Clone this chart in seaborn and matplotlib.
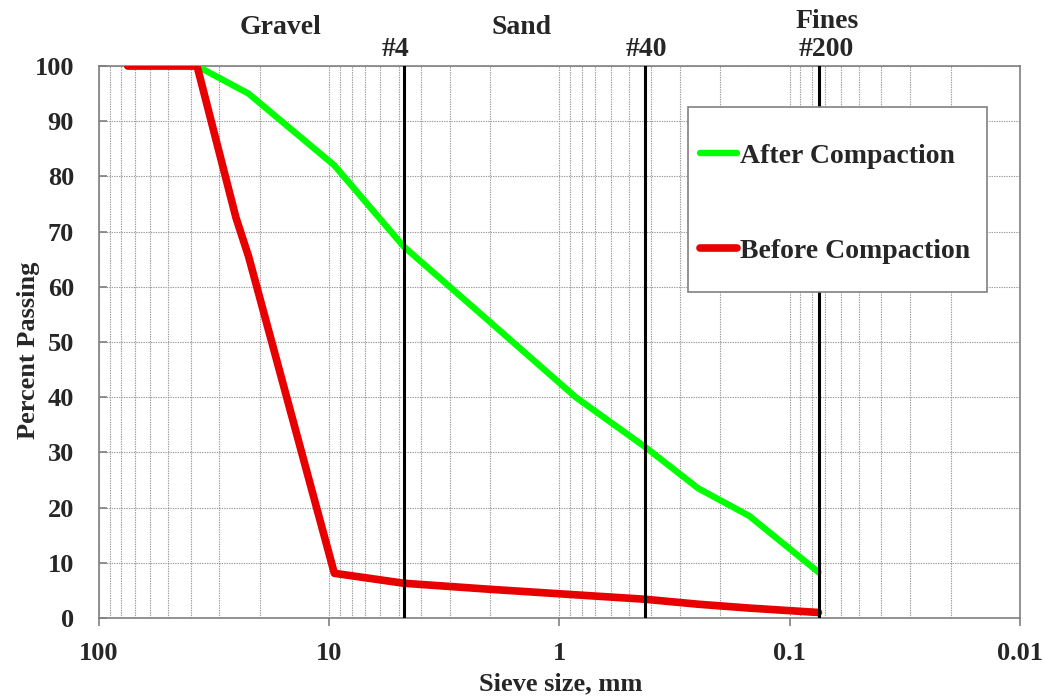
import matplotlib
matplotlib.use("Agg")
import matplotlib.pyplot as plt
import seaborn as sns
import pandas as pd
from matplotlib.patches import Rectangle
from matplotlib.ticker import LogLocator, FuncFormatter, MultipleLocator, NullFormatter

# Gradation data (sieve size in mm, percent passing)
sieve_after = [75, 37.5, 22.4, 9.5, 4.75, 2.0, 0.85, 0.425, 0.25, 0.15, 0.075]
pass_after = [100, 100, 95, 82, 67.3, 53.6, 40, 31, 23.5, 18.5, 8.3]

sieve_before = [75, 37.5, 25.4, 22.4, 9.5, 4.75, 2.0, 0.85, 0.425, 0.25, 0.15, 0.075]
pass_before = [100, 100, 72.5, 65.5, 8.1, 6.3, 5.2, 4.2, 3.4, 2.5, 1.8, 1.0]

# Standard sieves and soil zones shown on top
sieve_marks = [4.75, 0.425, 0.075]
sieve_names = ["#4", "#40", "#200"]
label_x = [5.16, 0.419, 0.0697]
zone_names = ["Gravel", "Sand", "Fines"]
zone_x = [16.3, 1.46, 0.069]

df_after = pd.DataFrame({"size": sieve_after, "passing": pass_after})
df_before = pd.DataFrame({"size": sieve_before, "passing": pass_before})

sns.set_style("white")
plt.rcParams["font.family"] = ["Liberation Serif", "DejaVu Serif"]
plt.rcParams["font.weight"] = "bold"

fig = plt.figure(figsize=(10.44, 6.98), dpi=100)
ax = fig.add_axes([0.0948, 0.1146, 0.8822, 0.7908])

sns.lineplot(data=df_after, x="size", y="passing", ax=ax, sort=False,
             color="#00ff00", lw=4.6, label="After Compaction",
             solid_capstyle="round", zorder=3)
sns.lineplot(data=df_before, x="size", y="passing", ax=ax, sort=False,
             color="#e80000", lw=5.5, label="Before Compaction",
             solid_capstyle="round", zorder=3)

ax.set_xscale("log")
ax.set_xlim(100, 0.01)
ax.set_ylim(0, 100)
ax.yaxis.set_major_locator(MultipleLocator(10))
ax.xaxis.set_major_locator(LogLocator(base=10))
ax.xaxis.set_minor_locator(LogLocator(base=10, subs=range(2, 10)))
ax.xaxis.set_major_formatter(FuncFormatter(lambda v, _: f"{v:g}"))
ax.xaxis.set_minor_formatter(NullFormatter())

grid_kw = dict(color="#9a9a9a", ls=(0, (1.2, 1)), lw=0.8)
ax.grid(which="both", axis="x", **grid_kw)
ax.grid(which="major", axis="y", **grid_kw)
ax.set_axisbelow(True)

for sp in ax.spines.values():
    sp.set_color("#808080")
    sp.set_linewidth(1.2)

ax.tick_params(axis="x", which="major", direction="out", length=6, width=1.2,
               color="#808080", bottom=True, labelsize=19, pad=11)
ax.tick_params(axis="x", which="minor", length=0)
ax.tick_params(axis="y", direction="in", length=6, width=1.2,
               color="#808080", left=True, labelsize=19, pad=18)

# sieve lines
for s in sieve_marks:
    ax.axvline(s, color="black", lw=2.2, zorder=4)

trans = ax.get_xaxis_transform()
for x, name in zip(label_x, sieve_names):
    ax.text(x, 1.03, name, transform=trans, ha="center", va="center",
            fontsize=20, fontweight="bold")
ax.text(zone_x[0], 1.07, zone_names[0], transform=trans, ha="center", va="center",
        fontsize=20, fontweight="bold")
ax.text(zone_x[1], 1.07, zone_names[1], transform=trans, ha="center", va="center",
        fontsize=20, fontweight="bold")
ax.text(zone_x[2], 1.08, zone_names[2], transform=trans, ha="center", va="center",
        fontsize=20, fontweight="bold")

ax.set_xlabel("Sieve size, mm", fontsize=19, fontweight="bold")
ax.set_ylabel("Percent Passing", fontsize=19, fontweight="bold")
ax.xaxis.set_label_coords(0.501, -0.099)
ax.yaxis.set_label_coords(-0.064, 0.485)

# legend box
box = Rectangle((0.6395, 0.5906), 0.3245, 0.3351, transform=ax.transAxes,
                facecolor="white", edgecolor="#808080", lw=1.2, zorder=5)
ax.add_patch(box)
leg = ax.legend(loc="center left", bbox_to_anchor=(0.6525, 0.751),
                frameon=False, borderaxespad=0, borderpad=0,
                handlelength=1.35, handletextpad=0.08, labelspacing=2.5,
                prop={"size": 20, "weight": "bold"})
leg.set_zorder(6)

fig.savefig("out.png", dpi=100)
